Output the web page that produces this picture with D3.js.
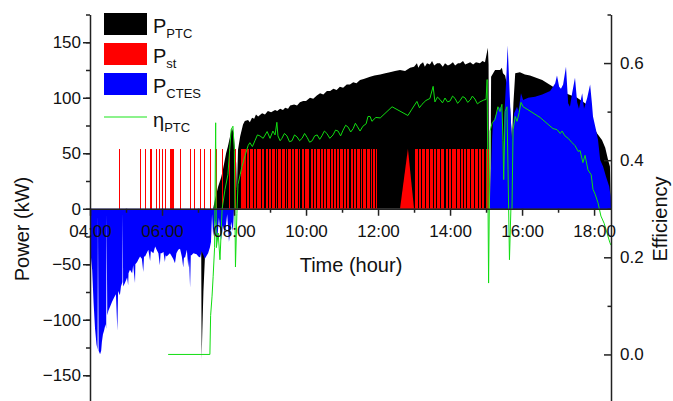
<!DOCTYPE html>
<html>
<head>
<meta charset="utf-8">
<script src="https://cdn.jsdelivr.net/npm/d3@7"></script>
<style>
  body { margin: 0; background: #fff; }
  svg { display: block; font-family: "Liberation Sans", Arial, sans-serif; }
</style>
</head>
<body>
<svg id="chart" width="673" height="401"></svg>
<script>
// ---- data (time in decimal hours, power in kW, efficiency as fraction) ----

// P_PTC: collector power
const pPTC = [
  [7.08, 0], [7.09, -45], [7.10, -136], [7.12, -110], [7.15, -75], [7.19, -45], [7.21, 0],
  [7.42, 0], [7.47, 8], [7.56, 20], [7.64, 28], [7.69, 35], [7.78, 50], [7.83, 56], [7.89, 65],
  [7.94, 73], [7.99, 68], [8.03, 50], [8.06, 41], [8.08, 17], [8.11, 53], [8.17, 65], [8.25, 76],
  [8.30, 79], [8.39, 80], [8.44, 78], [8.50, 82], [8.56, 81], [8.61, 85], [8.67, 83], [8.78, 86],
  [8.86, 85], [8.94, 88], [9.03, 87], [9.14, 89], [9.20, 88], [9.28, 90], [9.36, 89], [9.42, 91],
  [9.50, 90], [9.56, 93], [9.67, 94], [9.75, 93], [9.83, 96], [9.92, 97], [10.00, 97], [10.11, 100],
  [10.20, 99], [10.30, 102], [10.39, 104], [10.48, 103], [10.58, 106], [10.67, 106], [10.76, 108],
  [10.85, 107], [10.94, 110], [11.03, 109], [11.13, 112], [11.22, 112], [11.31, 114], [11.40, 113],
  [11.50, 116], [11.60, 117], [11.70, 118], [11.78, 119], [11.90, 120], [12.06, 121], [12.20, 122],
  [12.33, 123], [12.47, 124], [12.61, 125], [12.75, 124], [12.89, 127], [13.00, 128], [13.08, 131],
  [13.12, 127], [13.17, 130], [13.25, 132], [13.30, 128], [13.36, 131], [13.44, 130], [13.50, 133],
  [13.56, 129], [13.64, 131], [13.72, 131], [13.80, 128], [13.86, 131], [13.94, 129], [14.00, 130],
  [14.08, 132], [14.14, 129], [14.22, 131], [14.28, 131], [14.36, 133], [14.42, 130], [14.50, 131],
  [14.56, 132], [14.64, 130], [14.72, 132], [14.83, 131], [14.90, 133], [14.97, 132], [15.05, 145],
  [15.07, 130], [15.08, 0], [15.12, 0], [15.14, 119], [15.25, 125], [15.39, 125], [15.44, 127],
  [15.47, 122], [15.53, 120], [15.56, 115], [15.61, 110], [15.67, 90], [15.72, 62], [15.76, 95],
  [15.81, 122], [15.94, 123], [16.08, 121], [16.22, 120], [16.56, 116], [16.86, 110], [17.14, 105],
  [17.53, 100], [17.89, 92], [17.97, 75], [18.08, 68], [18.22, 62], [18.31, 55], [18.39, 44],
  [18.44, 38], [18.47, 0]
];

// P_st: short charging pulses [start, end] and dense blocks with short drops
const stLevel = 54;
const stPulses = [
  [4.80, 4.83], [5.38, 5.41], [5.53, 5.56], [5.68, 5.71], [5.82, 5.85], [5.92, 5.95], [6.00, 6.03],
  [6.09, 6.12], [6.23, 6.33], [6.51, 6.54], [6.77, 6.80], [6.89, 6.92], [7.05, 7.08], [7.16, 7.19],
  [7.32, 7.35], [7.49, 7.52], [7.67, 7.70], [7.85, 7.88], [8.02, 8.05]
];
const stBlocks = [[8.19, 11.96], [13.03, 15.07]];
const stDrops = [
  8.35, 8.44, 8.54, 8.63, 8.77, 8.86, 8.95, 9.05, 9.14, 9.20, 9.33, 9.42, 9.48, 9.60, 9.69, 9.79,
  9.86, 9.97, 10.11, 10.20, 10.30, 10.39, 10.48, 10.56, 10.67, 10.76, 10.85, 10.94, 11.04, 11.13,
  11.22, 11.31, 11.40, 11.50, 11.58, 11.69, 11.78, 11.85, 11.92,
  13.12, 13.21, 13.33, 13.43, 13.54, 13.63, 13.74, 13.86, 13.95, 14.05, 14.17, 14.28, 14.37, 14.46,
  14.57, 14.69, 14.78, 14.88, 14.97
];
const stRamp = [[12.61, 0], [12.83, 54], [13.00, 0]];

// P_CTES: storage power (negative = discharge)
const pCTES = [
  [4.00, 0], [4.01, -38], [4.06, -55], [4.10, -85], [4.14, -108], [4.18, -122], [4.21, -127], [4.22, -5],
  [4.24, -128], [4.28, -131], [4.31, -128], [4.33, -120], [4.36, -113], [4.39, -110], [4.43, -104],
  [4.45, -108], [4.46, -5], [4.48, -96], [4.51, -92], [4.56, -88], [4.61, -84], [4.67, -80], [4.72, -77],
  [4.76, -110], [4.78, -74], [4.83, -78], [4.86, -70], [4.90, -66], [4.91, -4], [4.92, -70], [4.97, -67],
  [5.03, -62], [5.06, -69], [5.07, -58], [5.11, -55], [5.17, -58], [5.20, -51], [5.25, -67], [5.26, -50],
  [5.31, -48], [5.34, -46], [5.39, -43], [5.44, -45], [5.48, -57], [5.50, -43], [5.53, -43], [5.62, -37],
  [5.67, -47], [5.69, -38], [5.76, -40], [5.81, -34], [5.85, -37], [5.90, -40], [5.94, -51], [5.96, -40],
  [5.99, -40], [6.04, -39], [6.08, -48], [6.10, -42], [6.13, -43], [6.22, -40], [6.31, -45], [6.36, -49],
  [6.40, -40], [6.45, -37], [6.50, -36], [6.55, -43], [6.59, -53], [6.61, -44], [6.64, -44], [6.69, -37],
  [6.73, -53], [6.75, -45], [6.78, -71], [6.80, -42], [6.82, -42], [6.87, -40], [6.96, -41], [7.01, -43],
  [7.06, -44], [7.10, -38], [7.19, -45], [7.28, -40], [7.33, -35], [7.36, -30],
  [7.39, -5], [7.42, -25], [7.47, -10], [7.53, -30], [7.58, -8], [7.64, -28], [7.69, -15], [7.75, -22],
  [7.81, -5], [7.86, -30], [7.92, -12], [7.97, -20], [8.00, 0],
  [15.10, 0], [15.13, 30], [15.17, 65], [15.19, 77], [15.25, 83], [15.33, 89], [15.39, 92], [15.44, 90],
  [15.47, 38], [15.50, 80], [15.56, 116], [15.60, 147], [15.64, 116], [15.68, 85], [15.72, 62],
  [15.75, 75], [15.78, 86], [15.86, 92], [15.90, 88], [15.97, 104], [16.03, 98], [16.17, 100],
  [16.36, 101], [16.56, 103], [16.78, 106], [16.86, 110], [16.92, 113], [16.97, 120], [17.03, 110],
  [17.08, 108], [17.14, 112], [17.22, 128], [17.28, 95], [17.33, 92], [17.39, 104], [17.47, 118],
  [17.53, 96], [17.58, 90], [17.67, 104], [17.72, 90], [17.81, 100], [17.89, 112], [17.94, 95],
  [17.97, 83], [18.06, 70], [18.11, 62], [18.17, 44], [18.25, 38], [18.33, 29], [18.42, 20],
  [18.46, 11], [18.47, 0]
];

// eta_PTC: collector efficiency (right axis)
const etaPTC = [
  [6.17, 0.0], [7.33, 0.0], [7.35, 0.08], [7.39, 0.12], [7.42, 0.16], [7.46, 0.22], [7.49, 0.477],
  [7.51, 0.22], [7.56, 0.25], [7.61, 0.195], [7.67, 0.30], [7.75, 0.34], [7.83, 0.37], [7.92, 0.463],
  [7.97, 0.47], [8.01, 0.42], [8.04, 0.18], [8.08, 0.29], [8.11, 0.35], [8.17, 0.37], [8.22, 0.387],
  [8.31, 0.41], [8.39, 0.43], [8.44, 0.436], [8.51, 0.428], [8.58, 0.44], [8.65, 0.452], [8.72, 0.45],
  [8.81, 0.445], [8.92, 0.459], [9.00, 0.445], [9.08, 0.46], [9.14, 0.452], [9.19, 0.478], [9.22, 0.45],
  [9.28, 0.44], [9.33, 0.445], [9.40, 0.455], [9.47, 0.45], [9.54, 0.438], [9.61, 0.44], [9.68, 0.452],
  [9.75, 0.448], [9.82, 0.44], [9.89, 0.445], [9.96, 0.455], [10.03, 0.447], [10.10, 0.437],
  [10.17, 0.44], [10.24, 0.45], [10.31, 0.452], [10.38, 0.443], [10.44, 0.45], [10.51, 0.46],
  [10.58, 0.455], [10.66, 0.445], [10.75, 0.452], [10.82, 0.462], [10.89, 0.46], [10.96, 0.45],
  [11.03, 0.462], [11.10, 0.472], [11.17, 0.468], [11.24, 0.458], [11.31, 0.465], [11.37, 0.476],
  [11.42, 0.47], [11.50, 0.46], [11.58, 0.47], [11.67, 0.475], [11.72, 0.49], [11.78, 0.49],
  [11.83, 0.48], [11.94, 0.488], [12.06, 0.487], [12.39, 0.51], [12.83, 0.492], [12.94, 0.505],
  [13.08, 0.521], [13.15, 0.508], [13.22, 0.515], [13.33, 0.523], [13.44, 0.527], [13.53, 0.552],
  [13.58, 0.52], [13.65, 0.53], [13.72, 0.525], [13.79, 0.518], [13.86, 0.528], [13.93, 0.52],
  [14.00, 0.522], [14.07, 0.532], [14.14, 0.527], [14.21, 0.517], [14.28, 0.523], [14.35, 0.531],
  [14.42, 0.528], [14.49, 0.519], [14.56, 0.524], [14.62, 0.532], [14.69, 0.526], [14.76, 0.516],
  [14.83, 0.52], [14.94, 0.524], [15.00, 0.525], [15.03, 0.566], [15.07, 0.147], [15.11, 0.46],
  [15.17, 0.477], [15.25, 0.484], [15.33, 0.51], [15.39, 0.50], [15.44, 0.515], [15.47, 0.44],
  [15.49, 0.36], [15.53, 0.50], [15.58, 0.51], [15.61, 0.38], [15.65, 0.195], [15.69, 0.30],
  [15.72, 0.298], [15.75, 0.463], [15.81, 0.49], [15.86, 0.48], [15.92, 0.498], [15.97, 0.519],
  [16.03, 0.51], [16.14, 0.505], [16.50, 0.488], [16.86, 0.465], [16.97, 0.463], [17.06, 0.455],
  [17.11, 0.46], [17.19, 0.45], [17.28, 0.445], [17.39, 0.436], [17.47, 0.43], [17.56, 0.418],
  [17.61, 0.42], [17.69, 0.395], [17.75, 0.41], [17.83, 0.38], [17.92, 0.37], [17.97, 0.34],
  [18.03, 0.33], [18.11, 0.312], [18.19, 0.285], [18.28, 0.27], [18.36, 0.25], [18.44, 0.23],
  [18.47, 0.225]
];

const xTickHours = [4, 6, 8, 10, 12, 14, 16, 18];
const xTickLabels = ["04:00", "06:00", "08:00", "10:00", "12:00", "14:00", "16:00", "18:00"];
const powerTicks = [-150, -100, -50, 0, 50, 100, 150];
const effTicks = [0.0, 0.2, 0.4, 0.6];

// ---- scales ----
const svg = d3.select('#chart');
const x = d3.scaleLinear().domain([4, 18.47]).range([90, 611]);
const yL = d3.scaleLinear().domain([-175, 175]).range([403, 14.5]);
const yR = d3.scaleLinear().domain([-0.1, 0.7]).range([403, 14.5]);

const plot = svg.append('g');

// P_PTC area
const areaL = d3.area().x(d => x(d[0])).y0(yL(0)).y1(d => yL(d[1]));
plot.append('path').datum(pPTC).attr('d', areaL).attr('fill', '#000');

// P_st intervals: pulses + blocks split by short drops
const dropHalf = 0.015;
let stIntervals = stPulses.slice();
stBlocks.forEach(([s, e]) => {
  let start = s;
  stDrops.filter(t => t > s && t < e).forEach(t => {
    stIntervals.push([start, t - dropHalf]);
    start = t + dropHalf;
  });
  stIntervals.push([start, e]);
});
plot.append('g').selectAll('rect')
  .data(stIntervals)
  .join('rect')
  .attr('x', d => x(d[0]))
  .attr('width', d => Math.max(1, x(d[1]) - x(d[0])))
  .attr('y', yL(stLevel))
  .attr('height', yL(0) - yL(stLevel))
  .attr('fill', '#ff0000')
  .attr('shape-rendering', 'crispEdges');
plot.append('path').datum(stRamp).attr('d', areaL).attr('fill', '#ff0000');

// P_CTES area
plot.append('path').datum(pCTES).attr('d', areaL).attr('fill', '#0000ff');

// eta_PTC line
plot.append('path').datum(etaPTC)
  .attr('d', d3.line().x(d => x(d[0])).y(d => yR(d[1])))
  .attr('fill', 'none')
  .attr('stroke', '#11dd11')
  .attr('stroke-width', 1);

// ---- axes ----
const axisColor = '#222';
function styleAxis(g) {
  g.selectAll('path, line').attr('stroke', axisColor).attr('stroke-width', 1.5);
  g.selectAll('text').attr('fill', '#111').style('font-size', '17px').style('font-family', '"Liberation Sans", Arial, sans-serif');
}

// left
svg.append('g').attr('transform', 'translate(90,0)')
  .call(d3.axisLeft(yL).tickValues(d3.range(-175, 176, 25)).tickSize(4).tickSizeOuter(0).tickFormat(''))
  .call(styleAxis);
svg.append('g').attr('transform', 'translate(90,0)')
  .call(d3.axisLeft(yL).tickValues(powerTicks).tickSize(7).tickPadding(2).tickSizeOuter(0))
  .call(g => g.select('.domain').remove())
  .call(styleAxis);

// right (ticks point inward)
svg.append('g').attr('transform', 'translate(611,0)')
  .call(d3.axisRight(yR).tickValues([-0.1, 0.1, 0.3, 0.5, 0.7]).tickSize(-3.5).tickSizeOuter(0).tickFormat(''))
  .call(styleAxis);
svg.append('g').attr('transform', 'translate(611,0)')
  .call(d3.axisRight(yR).tickValues(effTicks).tickSize(-7).tickPadding(9).tickSizeOuter(0).tickFormat(d3.format('.1f')))
  .call(g => g.select('.domain').remove())
  .call(styleAxis);

// bottom, drawn on the zero line
svg.append('g').attr('transform', `translate(0,${yL(0)})`)
  .call(d3.axisBottom(x).tickValues(d3.range(5, 18, 2)).tickSize(4).tickSizeOuter(0).tickFormat(''))
  .call(styleAxis);
svg.append('g').attr('transform', `translate(0,${yL(0)})`)
  .call(d3.axisBottom(x).tickValues(xTickHours).tickSize(7).tickPadding(9).tickSizeOuter(0)
    .tickFormat((d, i) => xTickLabels[i]))
  .call(g => g.select('.domain').remove())
  .call(styleAxis);

// axis titles
svg.append('text').attr('x', 351).attr('y', 272).attr('text-anchor', 'middle')
  .style('font-size', '20px').attr('fill', '#111').text('Time (hour)');
svg.append('text').attr('transform', 'translate(29,229) rotate(-90)').attr('text-anchor', 'middle')
  .style('font-size', '20px').attr('fill', '#111').text('Power (kW)');
svg.append('text').attr('transform', 'translate(667,219) rotate(-90)').attr('text-anchor', 'middle')
  .style('font-size', '20px').attr('fill', '#111').text('Efficiency');

// ---- legend ----
const legendItems = [
  { main: 'P', sub: 'PTC', color: '#000', type: 'rect', y: 13 },
  { main: 'P', sub: 'st', color: '#ff0000', type: 'rect', y: 43 },
  { main: 'P', sub: 'CTES', color: '#0000ff', type: 'rect', y: 73 },
  { main: 'η', sub: 'PTC', color: '#66ee66', type: 'line', y: 107 }
];
const legend = svg.append('g');
legendItems.forEach(item => {
  if (item.type === 'rect') {
    legend.append('rect').attr('x', 104).attr('y', item.y).attr('width', 43).attr('height', 22)
      .attr('fill', item.color);
  } else {
    legend.append('line').attr('x1', 104).attr('x2', 147).attr('y1', item.y + 10).attr('y2', item.y + 10)
      .attr('stroke', item.color).attr('stroke-width', 1.5);
  }
  const t = legend.append('text').attr('x', 153).attr('y', item.y + 20).attr('fill', '#111')
    .style('font-size', '20px');
  t.append('tspan').text(item.main);
  t.append('tspan').attr('dy', 5).style('font-size', '13px').text(item.sub);
});
</script>
</body>
</html>
